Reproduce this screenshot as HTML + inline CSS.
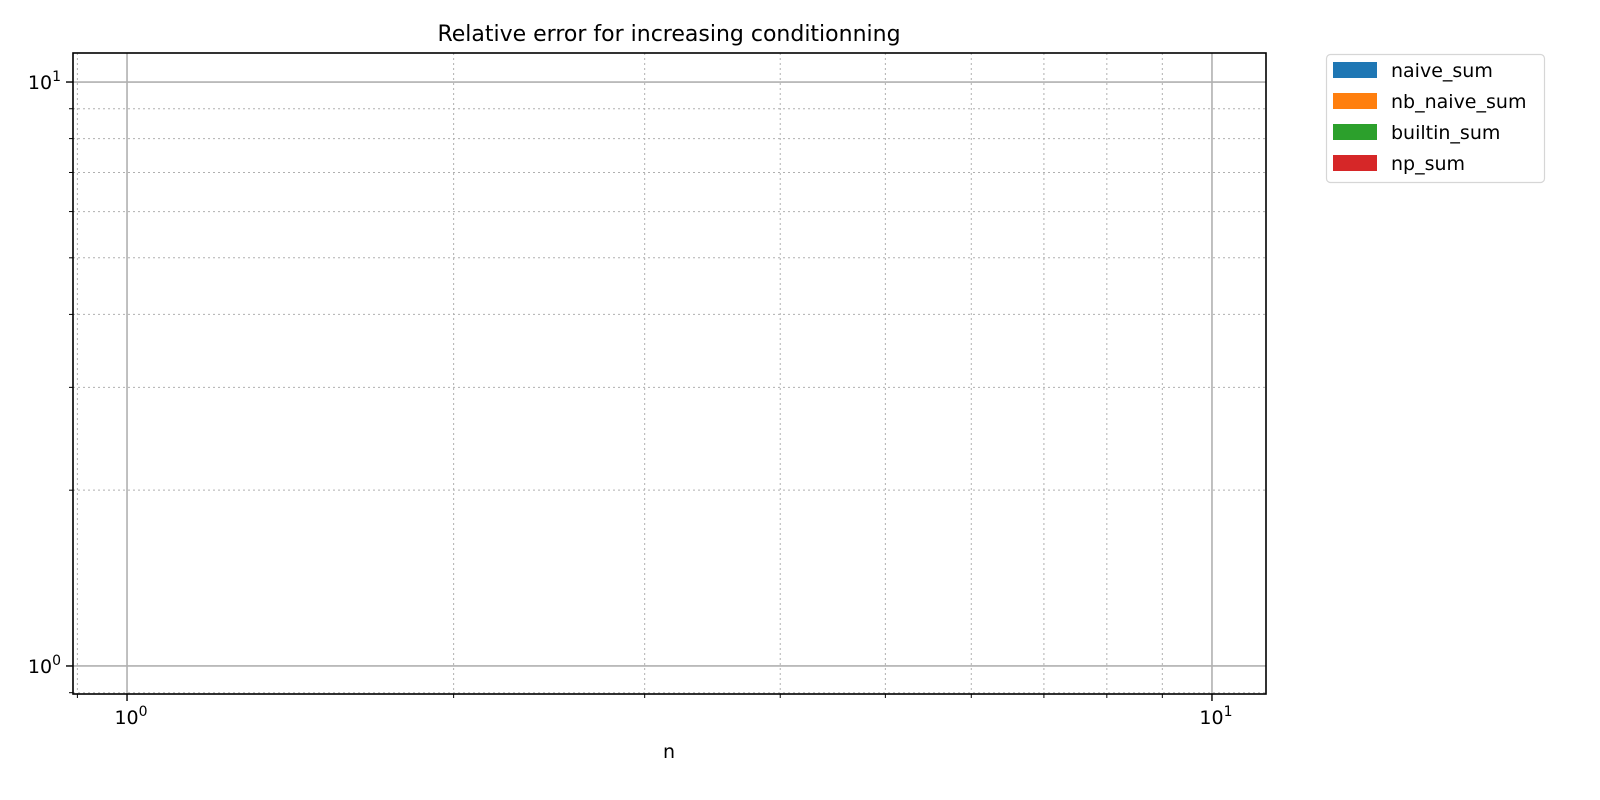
<!DOCTYPE html>
<html><head><meta charset="utf-8">
<style>
html,body{margin:0;padding:0;background:#fff;}
svg{display:block;font-family:"DejaVu Sans","Liberation Sans",sans-serif;}
</style></head>
<body>
<svg id="chart" width="1600" height="800" viewBox="0 0 1600 800">
<text x="669" y="41" text-anchor="middle" font-size="22" fill="#000">Relative error for increasing conditionning</text>
<g id="grid"></g>
<g id="ticks"></g>
<g id="series"></g>
<rect x="73" y="53" width="1193" height="641" fill="none" stroke="#000" stroke-width="1.6"/>
<text x="669" y="758" text-anchor="middle" font-size="19">n</text>
<g>
<rect x="1326.5" y="54.5" width="218" height="128" rx="4" fill="#fff" stroke="#d6d6d6" stroke-width="1.2"/>
<g id="legend-items"></g>
</g>
</svg>
<script>
const seriesNames = ["naive_sum","nb_naive_sum","builtin_sum","np_sum"];
const seriesColors = ["#1f77b4","#ff7f0e","#2ca02c","#d62728"];
const seriesX = [[],[],[],[]];
const seriesY = [[],[],[],[]];
const xMajorTicks = [1,10];
const yMajorTicks = [1,10];
const xMinorTicks = [0.9,2,3,4,5,6,7,8,9];
const yMinorTicks = [0.9,2,3,4,5,6,7,8,9];

const NS="http://www.w3.org/2000/svg";
const L=73,R=1266,T=53,B=694;
const xLo=-0.0498,xHi=1.0498,yLo=-0.048,yHi=1.0497;
function xs(v){return L+(Math.log10(v)-xLo)/(xHi-xLo)*(R-L);}
function ys(v){return B-(Math.log10(v)-yLo)/(yHi-yLo)*(B-T);}
function mk(tag,attrs,parent){const e=document.createElementNS(NS,tag);for(const k in attrs)e.setAttribute(k,attrs[k]);parent.appendChild(e);return e;}
const grid=document.getElementById('grid'),ticks=document.getElementById('ticks');
xMinorTicks.forEach(v=>{const x=xs(v);
 const l=mk('line',{x1:x,x2:x,y1:T,y2:B,stroke:'#b0b0b0','stroke-width':1,'stroke-dasharray':'2,3'},grid);
 
 
 const t=mk('line',{x1:x,x2:x,y1:B,y2:B+4,stroke:'#000','stroke-width':1},ticks);
 
 
});
yMinorTicks.forEach(v=>{const y=ys(v);
 const l=mk('line',{x1:L,x2:R,y1:y,y2:y,stroke:'#b0b0b0','stroke-width':1,'stroke-dasharray':'2,3'},grid);
 
 
 const t=mk('line',{x1:L-4,x2:L,y1:y,y2:y,stroke:'#000','stroke-width':1},ticks);
 
 
});
function label(parent,x,y,anchor,exp,name){
 const t=mk('text',{x:x,y:y,'text-anchor':anchor,'font-size':19,fill:'#000'},parent);
 
 
 const a=document.createElementNS(NS,'tspan');a.textContent='10';t.appendChild(a);
 const b=document.createElementNS(NS,'tspan');b.setAttribute('dy','-8');b.setAttribute('font-size','14');b.textContent=exp;t.appendChild(b);
}
xMajorTicks.forEach(v=>{const x=xs(v);
 const l=mk('line',{x1:x,x2:x,y1:T,y2:B,stroke:'#b0b0b0','stroke-width':1.6},grid);
 
 
 const t=mk('line',{x1:x,x2:x,y1:B,y2:B+7,stroke:'#000','stroke-width':1.4},ticks);
 
 
 label(ticks,x+4,B+30,'middle',String(Math.round(Math.log10(v))),'x-tick-label');
});
yMajorTicks.forEach(v=>{const y=ys(v);
 const l=mk('line',{x1:L,x2:R,y1:y,y2:y,stroke:'#b0b0b0','stroke-width':1.6},grid);
 
 
 const t=mk('line',{x1:L-7,x2:L,y1:y,y2:y,stroke:'#000','stroke-width':1.4},ticks);
 
 
 label(ticks,L-12,y+7,'end',String(Math.round(Math.log10(v))),'y-tick-label');
});
const sg=document.getElementById('series');
seriesNames.forEach((n,i)=>{
 if(!seriesX[i].length)return;
 const pts=seriesX[i].map((x,j)=>xs(x)+','+ys(seriesY[i][j])).join(' ');
 const p=mk('polyline',{points:pts,fill:'none',stroke:seriesColors[i],'stroke-width':2},sg);
 
 
});
const lg=document.getElementById('legend-items');
seriesNames.forEach((n,i)=>{
 const cy=70+i*31;
 const r=mk('rect',{x:1333,y:cy-8,width:44,height:16,fill:seriesColors[i]},lg);
 
 
 const t=mk('text',{x:1391,y:cy+7,'font-size':19,fill:'#000'},lg);
 t.textContent=n;
 
 
});
</script>
</body></html>
